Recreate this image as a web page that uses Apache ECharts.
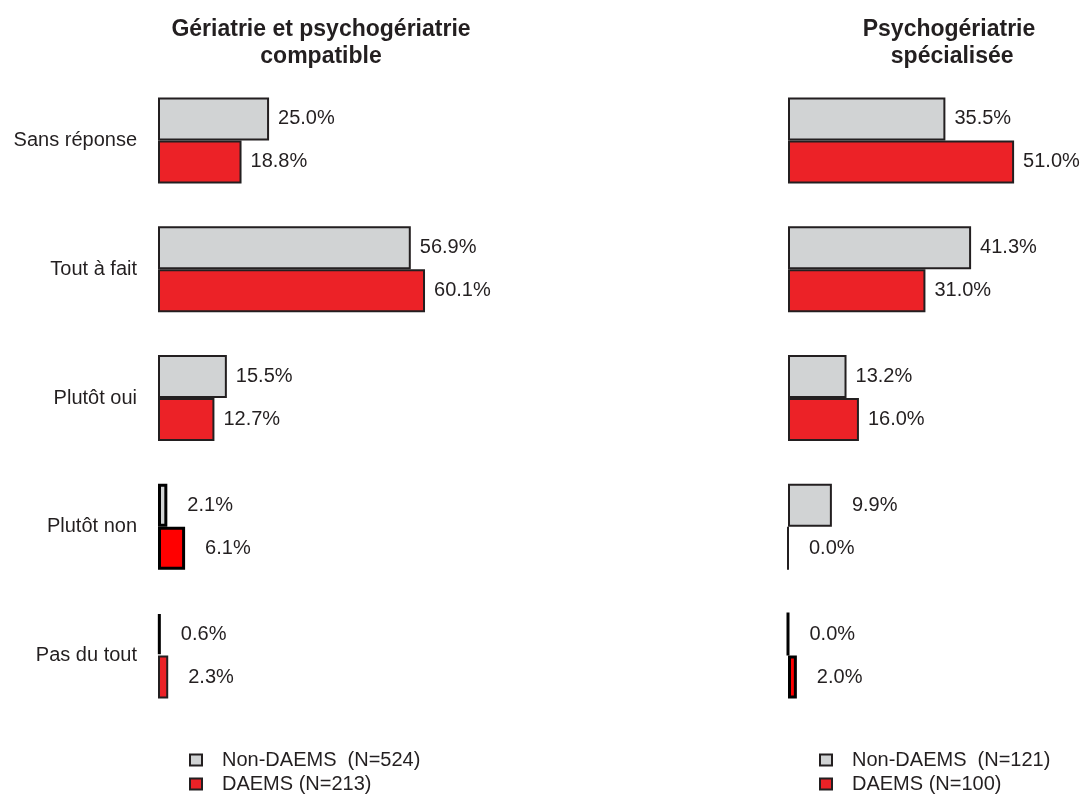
<!DOCTYPE html>
<html>
<head>
<meta charset="utf-8">
<script src="https://cdn.jsdelivr.net/npm/echarts@6/dist/echarts.min.js"></script>
<style>
  html, body { margin: 0; padding: 0; background: #fff; }
  #chart { width: 1084px; height: 794px; }
</style>
</head>
<body>
<div id="chart"></div>
<script>
// data
const categories = ['Sans réponse', 'Tout à fait', 'Plutôt oui', 'Plutôt non', 'Pas du tout']

const leftTitle = 'Gériatrie et psychogériatrie\ncompatible'
const leftNames = ['Non-DAEMS  (N=524)', 'DAEMS (N=213)']
const leftNonDaems = [25.0, 56.9, 15.5, 2.1, 0.6]
const leftDaems = [18.8, 60.1, 12.7, 6.1, 2.3]

const rightTitle = 'Psychogériatrie\n spécialisée'
const rightNames = ['Non-DAEMS  (N=121)', 'DAEMS (N=100)']
const rightNonDaems = [35.5, 41.3, 13.2, 9.9, 0.0]
const rightDaems = [51.0, 31.0, 16.0, 0.0, 2.0]

const GREY = '#d1d3d4'
const RED = '#ec2227'
const INK = '#231f20'
const FONT = '"Liberation Sans", Arial, sans-serif'

function makeData(values, heavyRows, isRed) {
  return values.map((v, i) => {
    const item = { value: v }
    if (v < 10) item.label = { distance: 20 }
    if (heavyRows.indexOf(i) >= 0) {
      // bars drawn with a heavier black outline in the original
      item.itemStyle = { borderColor: '#000', borderWidth: 3 }
      if (isRed) item.itemStyle.color = '#ff0000'
    }
    return item
  })
}

function barSeries(name, values, color, axisIdx, heavyRows, isRed) {
  return {
    name: name,
    type: 'bar',
    xAxisIndex: axisIdx,
    yAxisIndex: axisIdx,
    barWidth: 43,
    barGap: '0%',
    itemStyle: { color: color, borderColor: INK, borderWidth: 2 },
    label: {
      show: true,
      position: 'right',
      distance: 9,
      color: INK,
      fontSize: 20,
      fontFamily: FONT,
      formatter: p => p.value.toFixed(1) + '%'
    },
    emphasis: { disabled: true },
    data: makeData(values, heavyRows, isRed)
  }
}

function legendItem(name, left, top) {
  return {
    data: [name], left: left, top: top,
    itemWidth: 12, itemHeight: 11, icon: 'rect',
    itemStyle: { borderColor: INK, borderWidth: 2 },
    textStyle: { fontSize: 20, color: INK, fontFamily: FONT, padding: [0, 0, 0, 15] },
    selectedMode: false
  }
}

const chart = echarts.init(document.getElementById('chart'))

const yAxisBase = {
  type: 'category',
  data: categories,
  inverse: true,
  axisLine: { show: false },
  axisTick: { show: false }
}
const xAxisBase = {
  type: 'value',
  min: 0,
  show: false,
  splitLine: { show: false }
}
const titleStyle = { fontSize: 23, fontWeight: 'bold', color: INK, lineHeight: 27, fontFamily: FONT }

chart.setOption({
  animation: false,
  textStyle: { fontFamily: FONT },
  title: [
    { text: leftTitle, left: 316, top: 11, textAlign: 'center', textStyle: titleStyle },
    { text: rightTitle, left: 944, top: 11, textAlign: 'center', textStyle: titleStyle }
  ],
  grid: [
    { left: 158, top: 76, width: 311, height: 644 },
    { left: 788, top: 76, width: 266, height: 644 }
  ],
  xAxis: [
    Object.assign({ gridIndex: 0, max: 70 }, xAxisBase),
    Object.assign({ gridIndex: 1, max: 60 }, xAxisBase)
  ],
  yAxis: [
    Object.assign({
      gridIndex: 0,
      axisLabel: { margin: 21, fontSize: 20, color: INK, fontFamily: FONT }
    }, yAxisBase),
    Object.assign({
      gridIndex: 1,
      axisLabel: { show: false }
    }, yAxisBase)
  ],
  legend: [
    legendItem(leftNames[0], 184, 745),
    legendItem(leftNames[1], 184, 769),
    legendItem(rightNames[0], 814, 745),
    legendItem(rightNames[1], 814, 769)
  ],
  series: [
    barSeries(leftNames[0], leftNonDaems, GREY, 0, [3, 4], false),
    barSeries(leftNames[1], leftDaems, RED, 0, [3], true),
    barSeries(rightNames[0], rightNonDaems, GREY, 1, [4], false),
    barSeries(rightNames[1], rightDaems, RED, 1, [4], true)
  ]
})
</script>
</body>
</html>
